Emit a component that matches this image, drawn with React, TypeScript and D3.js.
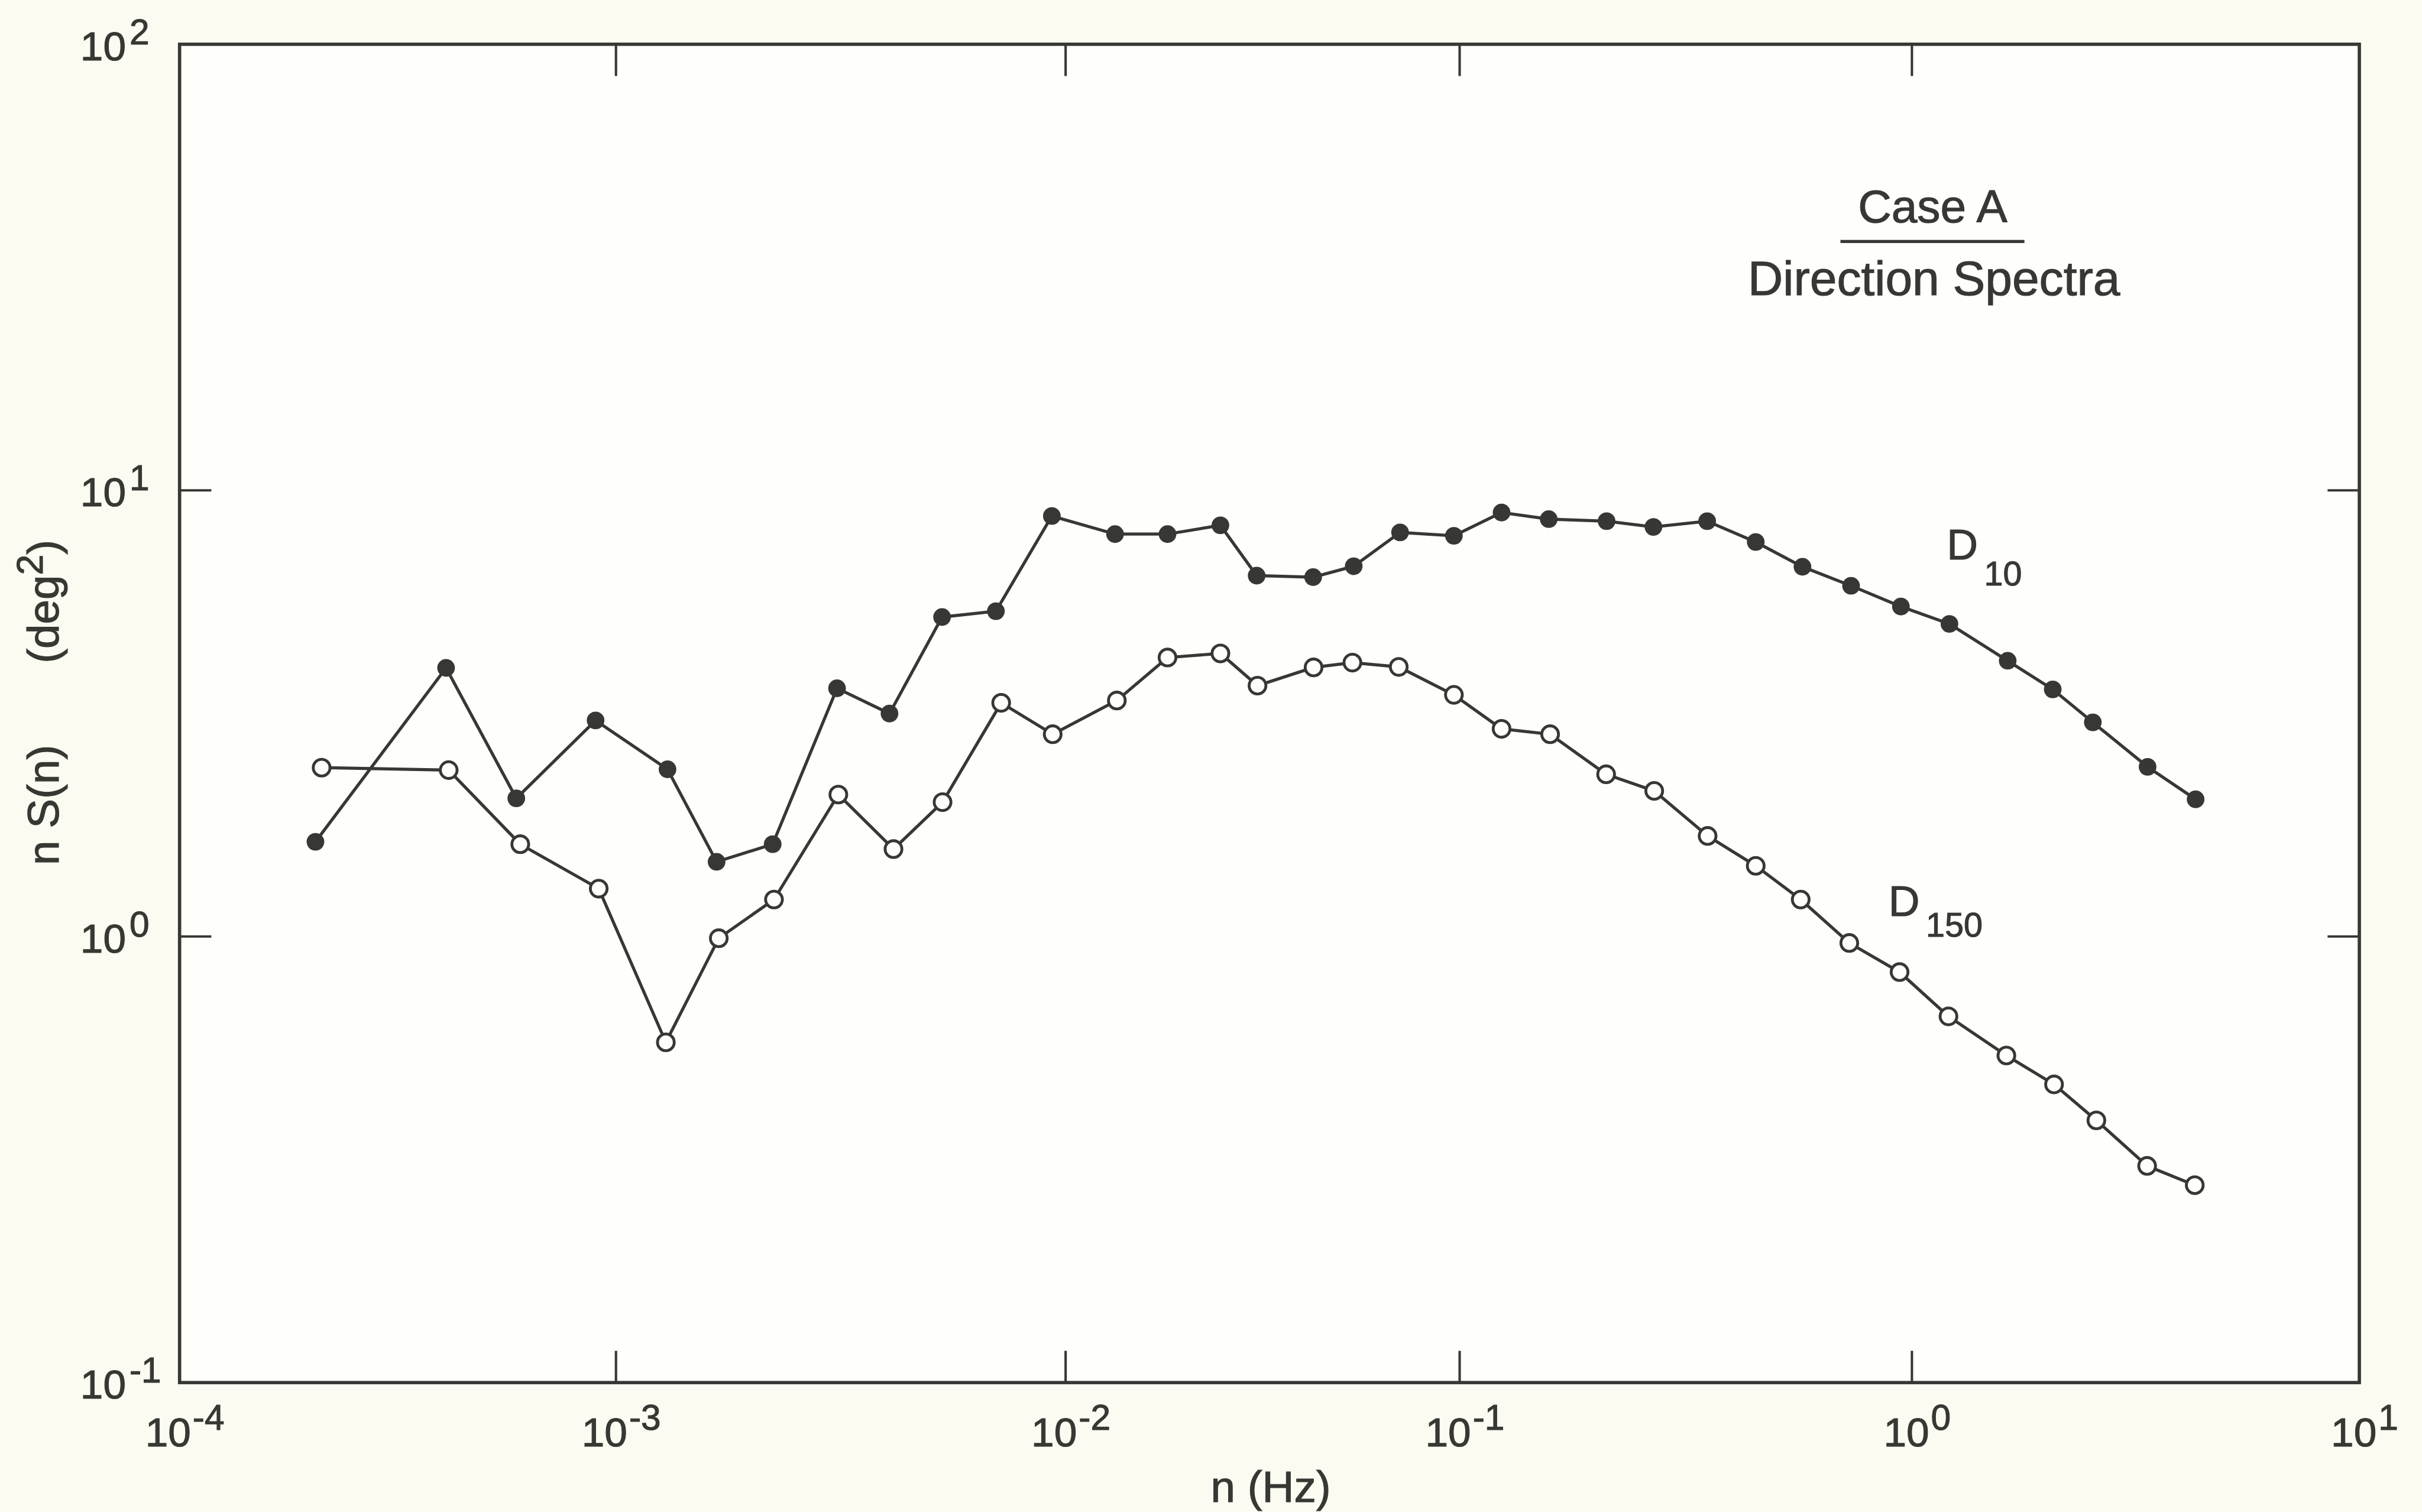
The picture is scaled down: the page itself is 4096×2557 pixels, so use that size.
import React from 'react';
import * as d3 from 'd3';

// D10 (filled dots)
const freqD10 = [
  2.048e-4, 4.08e-4, 5.91e-4, 8.98e-4, 1.302e-3, 1.674e-3, 2.231e-3, 3.102e-3, 4.058e-3, 5.312e-3,
  6.998e-3, 9.32e-3, 1.335e-2, 1.814e-2, 2.471e-2, 3.054e-2, 4.248e-2, 5.385e-2, 7.06e-2, 9.67e-2,
  0.1238, 0.1574, 0.2113, 0.2682, 0.3526, 0.4515, 0.5728, 0.7336, 0.9454, 1.213,
  1.637, 2.064, 2.537, 3.363, 4.306,
];
const valD10 = [
  1.63, 4.0, 2.04, 3.05, 2.37, 1.47, 1.61, 3.6, 3.16, 5.2,
  5.36, 8.76, 7.98, 7.98, 8.35, 6.44, 6.39, 6.76, 8.05, 7.91,
  8.92, 8.62, 8.53, 8.28, 8.53, 7.66, 6.74, 6.11, 5.49, 5.02,
  4.15, 3.58, 3.02, 2.4, 2.03,
];

// D150 (open circles)
const freqD150 = [
  2.116e-4, 4.137e-4, 6.035e-4, 9.13e-4, 1.291e-3, 1.693e-3, 2.246e-3, 3.123e-3, 4.142e-3, 5.325e-3,
  7.19e-3, 9.36e-3, 1.349e-2, 1.814e-2, 2.471e-2, 3.069e-2, 4.259e-2, 5.344e-2, 7.006e-2, 9.67e-2,
  0.1238, 0.1585, 0.2108, 0.2693, 0.3534, 0.4515, 0.5677, 0.727, 0.9391, 1.207,
  1.626, 2.078, 2.584, 3.355, 4.287,
];
const valD150 = [
  2.39, 2.36, 1.61, 1.28, 0.579, 0.991, 1.21, 2.08, 1.57, 2.0,
  3.34, 2.84, 3.38, 4.22, 4.31, 3.65, 4.01, 4.11, 4.02, 3.48,
  2.92, 2.84, 2.31, 2.12, 1.68, 1.44, 1.21, 0.967, 0.832, 0.662,
  0.541, 0.466, 0.387, 0.306, 0.277,
];

const xExps = [-4, -3, -2, -1, 0, 1];
const yExps = [-1, 0, 1, 2];
// decade positions along the (hand-drawn, slightly uneven) frequency axis
const xDecadePos = [407, 1396, 2415, 3308, 4333, 5347];

const W = 5489;
const H = 3426;
const box = { left: 407, right: 5347, top: 100, bottom: 3133 };
const ink = '#373733';
const font = '"Liberation Sans", Arial, Helvetica, sans-serif';

const supText = (e: number) => (e < 0 ? '-' + Math.abs(e) : String(e));

export default function App() {
  const x = d3.scaleLog().domain(xExps.map(e => 10 ** e)).range(xDecadePos);
  const y = d3.scaleLog().domain([1e-1, 1e2]).range([box.bottom, box.top]);

  const line = d3.line<[number, number]>()
    .x(d => x(d[0]))
    .y(d => y(d[1]));

  const d10 = freqD10.map((f, i) => [f, valD10[i]] as [number, number]);
  const d150 = freqD150.map((f, i) => [f, valD150[i]] as [number, number]);

  const tickLen = 72;
  const innerX = xExps.slice(1, -1);
  const innerY = yExps.slice(1, -1);
  const textStroke = { stroke: ink, strokeWidth: 1.5 };

  return (
    <svg
      width={4096}
      height={2557}
      viewBox={`0 0 ${W} ${H}`}
      style={{ position: 'absolute', left: 0, top: 0, display: 'block' }}
      fontFamily={font}
    >
      <rect x={0} y={0} width={W} height={H} fill="#fbfbf2" />
      <rect x={box.left} y={box.top} width={box.right - box.left} height={box.bottom - box.top} fill="#fefefb" />

      {/* ticks */}
      <g stroke={ink} strokeWidth={5.5}>
        {innerX.map(e => (
          <g key={'xt' + e}>
            <line x1={x(10 ** e)} x2={x(10 ** e)} y1={box.bottom} y2={box.bottom - tickLen} />
            <line x1={x(10 ** e)} x2={x(10 ** e)} y1={box.top} y2={box.top + tickLen} />
          </g>
        ))}
        {innerY.map(e => (
          <g key={'yt' + e}>
            <line x1={box.left} x2={box.left + tickLen} y1={y(10 ** e)} y2={y(10 ** e)} />
            <line x1={box.right} x2={box.right - tickLen} y1={y(10 ** e)} y2={y(10 ** e)} />
          </g>
        ))}
      </g>

      <rect
        x={box.left}
        y={box.top}
        width={box.right - box.left}
        height={box.bottom - box.top}
        fill="none"
        stroke={ink}
        strokeWidth={7.5}
      />

      {/* x tick labels */}
      <g fill={ink} fontSize={93} {...textStroke}>
        {xExps.map(e => (
          <text key={'xl' + e} x={x(10 ** e) + 12} y={3278} textAnchor="middle">
            10<tspan dx={4} dy={-38} fontSize={81}>{supText(e)}</tspan>
          </text>
        ))}
      </g>

      {/* y tick labels */}
      <g fill={ink} fontSize={93} {...textStroke}>
        {yExps.map(e => (
          <text key={'yl' + e} x={182} y={y(10 ** e) + 36}>
            10<tspan dx={8} dy={-36} fontSize={81}>{supText(e)}</tspan>
          </text>
        ))}
      </g>

      {/* axis titles */}
      <g fill={ink} fontSize={100} {...textStroke}>
        <text x={2880} y={3404} textAnchor="middle">n (Hz)</text>
        <text transform="translate(132,1824) rotate(-90)" textAnchor="middle">n S(n)</text>
        <text transform="translate(132,1363) rotate(-90)" textAnchor="middle">
          (deg<tspan dy={-36} fontSize={84}>2</tspan><tspan dy={36}>)</tspan>
        </text>
      </g>

      {/* series */}
      <path d={line(d10) ?? ''} fill="none" stroke={ink} strokeWidth={7} />
      <path d={line(d150) ?? ''} fill="none" stroke={ink} strokeWidth={7} />
      {d10.map((d, i) => (
        <circle key={'f' + i} cx={x(d[0])} cy={y(d[1])} r={20} fill={ink} />
      ))}
      {d150.map((d, i) => (
        <circle key={'o' + i} cx={x(d[0])} cy={y(d[1])} r={19} fill="#fefefb" stroke={ink} strokeWidth={6.5} />
      ))}

      {/* series labels */}
      <g fill={ink} {...textStroke}>
        <text x={4412} y={1268} fontSize={98}>
          D<tspan dx={14} dy={58} fontSize={77}>10</tspan>
        </text>
        <text x={4280} y={2076} fontSize={98}>
          D<tspan dx={14} dy={46} fontSize={77}>150</tspan>
        </text>
      </g>

      {/* title */}
      <g fill={ink} {...textStroke}>
        <text x={4380} y={503} textAnchor="middle" fontSize={105}>Case A</text>
        <text x={4383} y={668} textAnchor="middle" fontSize={110}>Direction Spectra</text>
      </g>
      <line x1={4171} x2={4588} y1={547} y2={547} stroke={ink} strokeWidth={7} />
    </svg>
  );
}
